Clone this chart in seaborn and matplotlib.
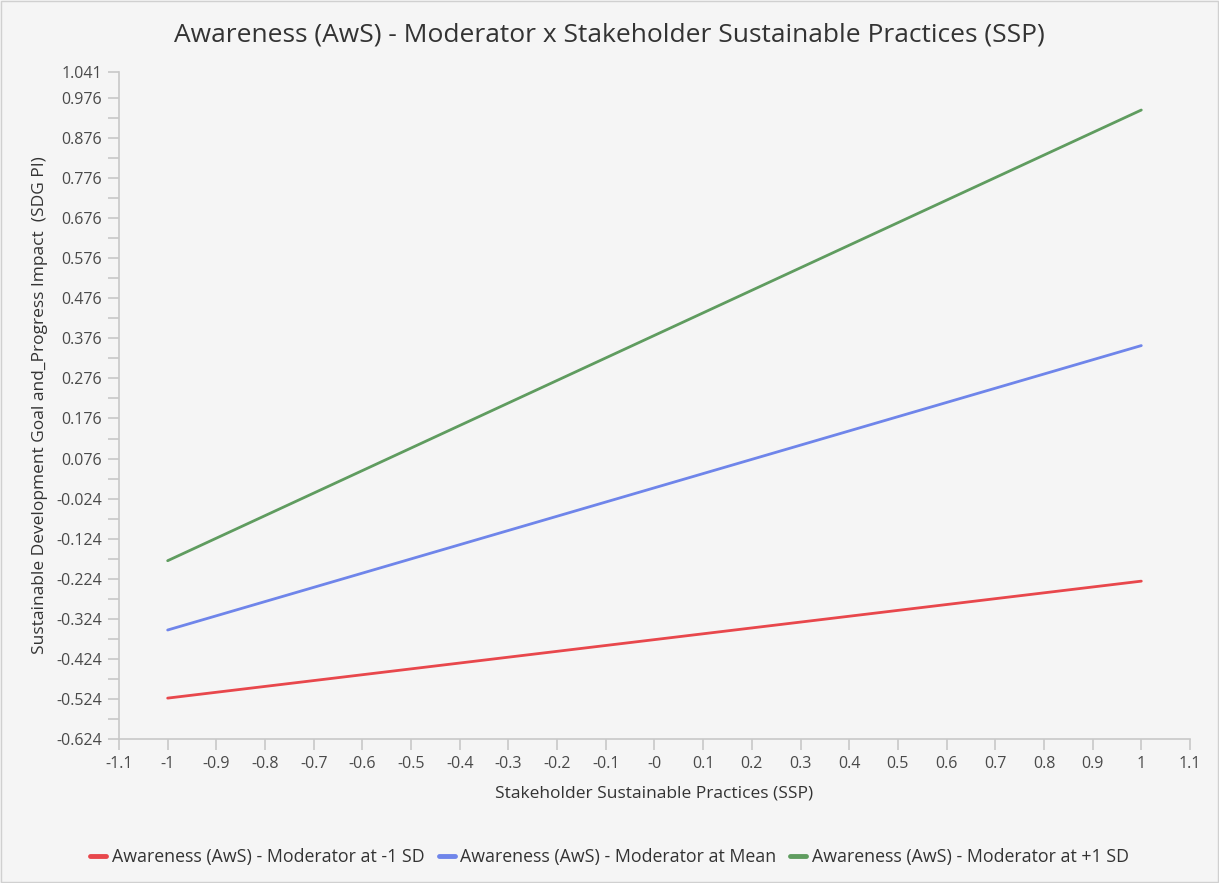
import numpy as np
import pandas as pd
import matplotlib.pyplot as plt
import seaborn as sns

# Valeurs (pentes simples, deux points par ligne)
ssp = [-1, 1]
low_sd = [-0.522, -0.230]
mean_sd = [-0.352, 0.358]
high_sd = [-0.179, 0.946]
series_names = ['Awareness (AwS) - Moderator at -1 SD',
                'Awareness (AwS) - Moderator at Mean',
                'Awareness (AwS) - Moderator at +1 SD']
colors = ['#e8474c', '#6f85ea', '#5f9c5f']

df = pd.DataFrame({
    'SSP': ssp * 3,
    'SDG': low_sd + mean_sd + high_sd,
    'series': [s for s in series_names for _ in ssp],
})

sns.set_style('white')
plt.rcParams['font.family'] = ['Open Sans', 'DejaVu Sans']

fig = plt.figure(figsize=(12.19, 8.83), dpi=100)
fig.patch.set_facecolor('#f5f5f5')
ax = fig.add_axes([0.0976, 0.1631, 0.8786, 0.7554])
ax.set_facecolor('#f5f5f5')

sns.lineplot(data=df, x='SSP', y='SDG', hue='series', palette=colors,
             hue_order=series_names, linewidth=2, ax=ax, legend=False)

ax.set_xlim(-1.1, 1.1)
ax.set_ylim(-0.624, 1.041)

# ticks x
xt = np.round(np.arange(-1.1, 1.1001, 0.1), 1)
xlab = []
for v in xt:
    if abs(v) < 1e-9:
        xlab.append('-0')
    elif abs(v - round(v)) < 1e-9:
        xlab.append(str(int(round(v))))
    else:
        xlab.append(f'{v:g}')
ax.set_xticks(xt)
ax.set_xticklabels(xlab)

# ticks y: majeurs tous les 0.1, mineurs à 0.05
yt = [round(-0.624 + 0.05 * i, 3) for i in range(33)] + [1.041]
ylab = []
for i, v in enumerate(yt[:-1]):
    ylab.append(f'{v:.3f}' if i % 2 == 0 else '')
ylab.append('1.041')
ax.set_yticks(yt)
ax.set_yticklabels(ylab)

for s in ['top', 'right']:
    ax.spines[s].set_visible(False)
for s in ['left', 'bottom']:
    ax.spines[s].set_color('#c8c8c8')
    ax.spines[s].set_linewidth(1.2)
ax.tick_params(axis='both', bottom=True, left=True, colors='#c8c8c8',
               labelcolor='#4a4a4a', labelsize=11.5, length=8, width=1.2,
               direction='out', pad=4)

ax.set_xlabel('Stakeholder Sustainable Practices (SSP)', fontsize=12.5,
              color='#333333', labelpad=10)
ax.set_ylabel('Sustainable Development Goal and_Progress Impact  (SDG PI)',
              fontsize=12.5, color='#333333', labelpad=6)

fig.suptitle('Awareness (AwS) - Moderator x Stakeholder Sustainable Practices (SSP)',
             fontsize=19, color='#333333', y=0.975)

handles = [plt.Line2D([0], [0], color=c, lw=3.5) for c in colors]
fig.legend(handles, series_names, loc='center', bbox_to_anchor=(0.5, 0.029),
           ncol=3, frameon=False, fontsize=12.8, handlelength=0.9,
           handletextpad=0.3, columnspacing=0.8, labelcolor='#333333')

fig.patches.append(plt.Rectangle((0.001, 0.001), 0.998, 0.998, transform=fig.transFigure,
                                 fill=False, edgecolor='#d0d0d0', lw=1))

plt.savefig('out.png', dpi=100, facecolor=fig.get_facecolor())
plt.close()
